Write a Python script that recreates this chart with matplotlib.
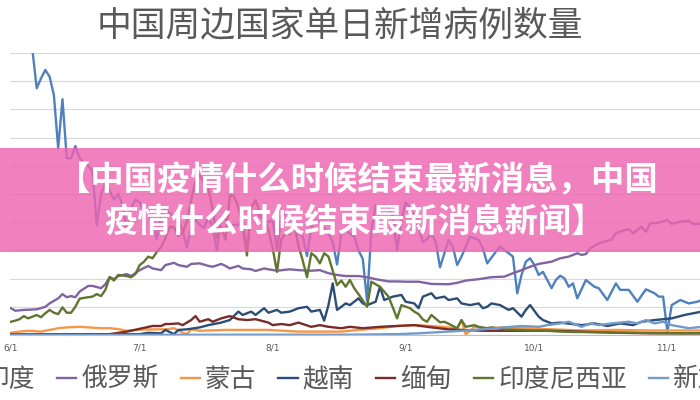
import matplotlib
matplotlib.use('Agg')
import matplotlib.pyplot as plt
from matplotlib.patches import Rectangle
import pandas as pd

plt.rcParams['font.family'] = ['Noto Sans CJK SC', 'DejaVu Sans']

# daily new cases (thousands), x = days since 6/1
start = pd.Timestamp('2021-06-01')

india_day = list(range(4, 101)) + [102, 103, 104, 105, 106, 107, 109, 110, 111, 113, 114, 116, 117, 118, 119,
                                   120, 121, 122, 123, 124, 126, 127, 128, 129, 130, 131, 132, 134, 136, 137,
                                   139, 141, 142, 144, 146, 148, 150, 151, 152, 153, 154, 156, 158, 160, 161]
india_val = [112, 101, 87.5, 91, 94, 91.6, 85.1, 66.2, 83.6, 62.7,
             62.7, 67, 62.8, 61, 60, 58, 39, 50, 54, 51,
             48, 50, 46, 37, 45, 48, 47, 44, 43, 39,
             34, 43, 45, 43, 42, 41, 37, 31, 38, 41,
             39, 38, 42, 38, 30, 42, 41, 39, 39, 39,
             40, 30, 43, 44, 42, 41, 40, 41, 30, 42,
             43, 44, 39, 36, 35, 28, 38, 41, 40, 38,
             36, 33, 25, 36, 37, 36, 35, 30, 27, 12,
             37, 46, 44, 46, 45, 42, 30, 41, 47, 45,
             42, 38, 33, 34, 36, 33, 24,
             33.7, 31.3, 24.8, 27.8, 31.3, 34.9, 33.7, 30.7, 25.4, 29.5, 31.3, 29, 27.8, 14.8, 21.3,
             26, 27.2, 24.8, 21.3, 22.4, 16.6, 19.5, 21, 20.1, 17.1, 18.3, 13, 19.5, 17.1, 16.6,
             12.4, 18.3, 16, 16, 11.8, 16.2, 14.8, 13.6, 13.6, 1.2, 10.6, 12.4, 11.2, 11.8, 12.4]

russia_day = [0, 1, 3, 6, 8, 9, 11, 12, 13, 14, 15, 16, 18, 19, 21, 22, 23, 24, 25, 27,
              28, 30, 32, 33, 35, 36, 38, 39, 41, 42, 44, 46, 47, 49, 50, 51, 53, 54, 56, 57,
              59, 60, 62, 65, 67, 70, 72, 74, 76, 78, 81, 83, 85, 88, 90, 92, 95, 98, 102, 104,
              106, 109, 112, 115, 117, 119, 121, 123, 126, 128, 130, 132, 133, 134, 135, 137, 140, 141, 143, 144,
              145, 147, 148, 149, 151, 153, 154, 156, 158, 159, 161]
russia_val = [9.5, 8.6, 8.9, 9.1, 10.0, 11.2, 13.0, 14.5, 13.4, 13.8, 13.4, 15.4, 17.4, 17.4, 16.6, 18.0, 20.5, 19.8, 20.9, 21.6,
              20.9, 23.0, 24.5, 23.6, 23.0, 24.8, 25.6, 24.8, 24.2, 25.2, 25.4, 24.5, 24.2, 25.2, 24.5, 23.6, 24.5, 23.6, 23.3, 22.7,
              23.6, 23.3, 22.8, 23.3, 23.0, 22.8, 23.0, 21.9, 21.3, 20.9, 20.9, 20.5, 19.8, 19.0, 19.0, 18.9, 18.9, 18.1, 18.0, 18.5,
              19.3, 19.8, 20.5, 20.7, 21.9, 23.0, 24.2, 25.2, 26.0, 27.2, 27.8, 29.0, 28.4, 28.7, 30.7, 32.5, 33.9, 36.1, 37.2, 37.5,
              36.1, 38.4, 36.6, 39.6, 39.8, 40.8, 39.4, 40.2, 40.5, 39.3, 39.4]

mongolia_day = [0, 2, 4, 7, 9, 11, 13, 16, 18, 21, 23, 25, 27, 30, 33, 36, 38, 40, 41, 42,
                44, 50, 60, 67, 72, 77, 81, 86, 90, 94, 98, 102, 104, 105, 106, 108, 110, 115, 120, 126,
                133, 141, 149, 161]
mongolia_val = [0.8, 1.2, 1.5, 1.2, 1.8, 2.4, 2.7, 2.9, 2.7, 2.4, 2.4, 2.1, 1.5, 1.9, 2.0, 2.0, 2.4, 0.8, 0.3, 2.0,
                1.5, 1.8, 1.8, 1.2, 1.2, 1.2, 1.8, 2.4, 3.2, 3.5, 3.2, 2.7, 2.2, 5.3, 0.2, 2.9, 2.4, 2.7, 2.4, 2.0,
                1.6, 1.8, 1.6, 1.6]

vietnam_day = [0, 15, 30, 32, 35, 36, 38, 39, 41, 44, 46, 49, 51, 53, 54, 56, 57, 59, 60, 62,
               63, 65, 67, 69, 70, 72, 73, 74, 75, 76, 77, 78, 79, 81, 82, 83, 85, 86, 87, 89,
               91, 92, 94, 95, 96, 98, 99, 101, 102, 104, 105, 107, 109, 110, 111, 112, 114, 116, 117, 119,
               120, 121, 123, 124, 126, 128, 133, 136, 139, 142, 145, 147, 150, 154, 157, 161]
vietnam_val = [0.2, 0.3, 0.3, 0.8, 0.6, 1.8, 0.3, 1.8, 2.0, 2.7, 3.5, 4.4, 5.3, 8.3, 7.1, 8.3, 7.1, 9.5, 7.9, 8.9,
               7.9, 8.3, 9.5, 10.0, 8.3, 8.9, 5.1, 10.6, 18.3, 8.9, 10.0, 11.2, 10.6, 13.0, 11.2, 10.6, 11.8, 17.1, 12.4, 13.6,
               14.2, 11.8, 11.2, 9.5, 13.6, 14.8, 13.0, 13.6, 12.4, 13.0, 11.2, 10.6, 11.2, 9.5, 10.0, 11.2, 10.6, 8.9, 9.5, 6.5,
               8.9, 10.6, 6.5, 5.3, 4.1, 4.4, 3.5, 4.1, 3.2, 4.1, 3.5, 4.7, 5.3, 5.9, 7.1, 8.3]

myanmar_day = [0, 21, 23, 27, 30, 33, 35, 36, 37, 39, 40, 42, 43, 44, 46, 47, 49, 51, 53, 55,
               57, 60, 61, 63, 65, 67, 70, 72, 74, 77, 79, 82, 86, 90, 94, 98, 102, 110, 118, 126,
               133, 141, 149, 161]
myanmar_val = [0.1, 0.1, 0.3, 1.2, 2.2, 3.2, 3.2, 3.9, 3.9, 4.1, 3.5, 5.3, 6.7, 4.7, 5.6, 4.7, 5.9, 6.7, 5.6, 5.3,
               5.6, 4.4, 3.5, 3.9, 3.5, 4.4, 2.9, 3.5, 2.9, 2.4, 2.9, 2.4, 2.9, 3.2, 3.5, 2.7, 2.0, 1.5, 1.5, 1.5,
               1.2, 0.8, 0.6, 0.6]

indonesia_day = ([0, 1, 2, 3, 4, 6, 7, 8, 9, 10, 11, 12, 13, 14, 15, 16, 18, 19, 20, 21, 22, 23, 24, 25, 27, 28, 29]
                 + list(range(30, 75))
                 + [76, 77, 78, 79, 80, 81, 83, 84, 86, 88, 90, 91, 93, 94, 95, 96, 97, 98, 100, 101,
                    102, 104, 105, 106, 108, 109, 111, 112, 115, 118, 122, 126, 130, 135, 140, 145, 150, 155, 161])
indonesia_val = [4.7, 5.1, 5.6, 6.7, 5.9, 7.1, 6.3, 7.7, 8.9, 7.9, 7.4, 9.8, 7.9, 7.9, 10.0, 12.9, 13.4, 13.6, 14.5, 13.8,
                 16.0, 20.5, 19.3, 21.3, 20.9, 20.5, 21.6,
                 24.8, 26.0, 27.8, 27.2, 29.5, 31.2, 34.4, 38.4, 38.1, 35.1, 36.2, 40.4, 47.9, 54.5, 56.8,
                 54.0, 51.9, 44.7, 34.3, 38.3, 33.8, 49.5, 49.1, 45.4, 38.7, 28.2, 45.2, 47.8, 43.5, 41.6,
                 37.3, 30.7, 22.4, 33.9, 35.9, 35.8, 39.5, 31.7, 26.4, 20.5, 29.0, 27.8, 25.4, 29.0, 27.8,
                 17.7, 19.3, 17.1, 19.5, 16.6, 14.5, 10.0, 18.9, 17.1, 13.6, 5.9, 10.6, 9.5, 8.3, 7.4, 5.5, 4.7, 7.1, 4.5, 4.7,
                 4.0, 2.4, 5.3, 2.9, 3.5, 2.9, 2.4, 2.7, 2.0, 1.8, 1.6, 1.4, 1.1, 1.0, 0.9, 0.8, 0.7, 0.6, 0.6]

singapore_day = [0, 30, 60, 79, 90, 95, 102, 110, 115, 119, 123, 125, 128, 130, 133, 135, 137, 140, 144, 146,
                 148, 150, 152, 154, 158, 161]
singapore_val = [0.02, 0.05, 0.1, 0.1, 0.3, 0.6, 1.2, 2.0, 2.7, 3.2, 2.9, 3.5, 4.1, 4.7, 2.9, 4.1, 3.5, 4.1, 4.7, 4.1,
                 5.3, 4.1, 4.7, 3.5, 2.4, 2.9]

series = [
    ('印度', india_day, india_val, '#4F81BD'),
    ('俄罗斯', russia_day, russia_val, '#8064A2'),
    ('蒙古', mongolia_day, mongolia_val, '#F79646'),
    ('越南', vietnam_day, vietnam_val, '#2C4D75'),
    ('缅甸', myanmar_day, myanmar_val, '#772C2A'),
    ('印度尼西亚', indonesia_day, indonesia_val, '#5F7530'),
    ('新加坡', singapore_day, singapore_val, '#729ACA'),
]

month_ticks = ['2021-06-01', '2021-07-01', '2021-08-01', '2021-09-01', '2021-10-01', '2021-11-01']

title = '中国周边国家单日新增病例数量'
banner_1 = '【中国疫情什么时候结束最新消息，中国'
banner_2 = '疫情什么时候结束最新消息新闻】'

fig = plt.figure(figsize=(7, 4), dpi=100)
ax = fig.add_axes([10 / 700, 65 / 400, 690 / 700, 282 / 400])

handles = []
for name, d, v, c in series:
    h, = ax.plot(d, v, color=c, lw=1.7, label=name, solid_joinstyle='round')
    handles.append(h)

ax.set_xlim(-0.23, 160.6)
ax.set_ylim(0, 100)
ax.set_yticks(range(0, 101, 10))
ax.yaxis.grid(True, color='#D9D9D9', lw=0.8)
ax.set_axisbelow(True)
ax.tick_params(axis='y', length=0, labelleft=False)

tick_pos = [(pd.Timestamp(t) - start).days for t in month_ticks]
ax.set_xticks(tick_pos)
ax.set_xticklabels(['%d/1' % pd.Timestamp(t).month for t in month_ticks],
                   fontsize=6.5, color='#595959', family=['DejaVu Sans'])
ax.tick_params(axis='x', length=0, pad=6)
for s in ['top', 'left', 'right']:
    ax.spines[s].set_visible(False)
ax.spines['bottom'].set_color('#BFBFBF')
ax.spines['bottom'].set_linewidth(0.8)

fig.text(340 / 700, 1 - 27 / 400, title, ha='center', va='center', fontsize=25, color='#595959',
         fontweight='light')

fig.legend(handles, [s[0] for s in series], loc='center', bbox_to_anchor=(355 / 700, 20 / 400), ncol=7,
           frameon=False, handlelength=0.75, handletextpad=0.2, columnspacing=0.85,
           prop={'size': 18.5, 'weight': 'light'},
           labelcolor='#595959', borderaxespad=0, borderpad=0)

# pink banner on top
fig.add_artist(Rectangle((0, 1 - 251.7 / 400), 1, 104 / 400, transform=fig.transFigure,
                         facecolor='#EE64B1', alpha=0.82, edgecolor='none', zorder=5))
fig.text(357 / 700, 1 - 181 / 400, banner_1, ha='center', va='center', fontsize=24,
         weight='bold', color='white', zorder=6)
fig.text(355 / 700, 1 - 222 / 400, banner_2, ha='center', va='center', fontsize=24,
         weight='bold', color='white', zorder=6)

fig.savefig('out.png', dpi=100)
